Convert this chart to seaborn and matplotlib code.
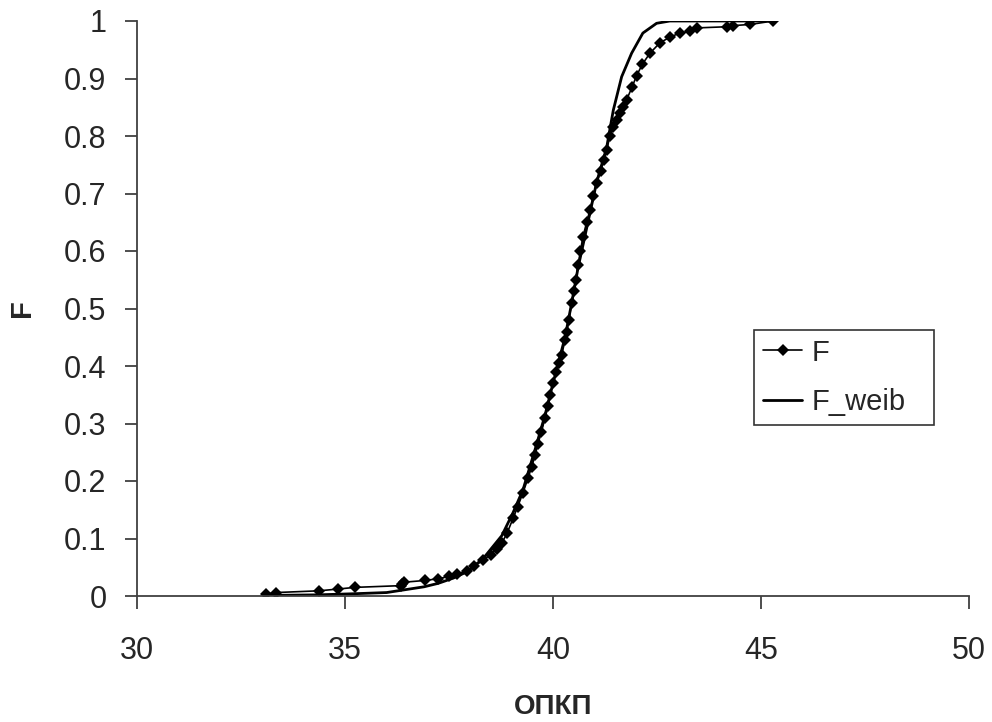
import matplotlib
matplotlib.use("Agg")
import matplotlib.pyplot as plt
import seaborn as sns
import pandas as pd

f_x = [33.09, 33.34, 34.37, 34.82, 35.24, 36.34, 36.38, 36.42, 36.92, 37.24,
       37.50, 37.70, 37.93, 38.10, 38.32, 38.50, 38.65, 38.77, 38.90, 39.04,
       39.15, 39.28, 39.40, 39.49, 39.57, 39.64, 39.72, 39.81, 39.88, 39.93,
       40.00, 40.08, 40.15, 40.21, 40.29, 40.33, 40.38, 40.45, 40.50, 40.55,
       40.60, 40.66, 40.72, 40.81, 40.89, 40.97, 41.05, 41.15, 41.22, 41.29,
       41.37, 41.45, 41.53, 41.60, 41.68, 41.77, 41.90, 42.01, 42.15, 42.33,
       42.57, 42.81, 43.05, 43.29, 43.46, 44.18, 44.33, 44.74, 45.29]
f_y = [0.003, 0.006, 0.009, 0.012, 0.015, 0.018, 0.021, 0.024, 0.027, 0.030,
       0.034, 0.038, 0.044, 0.052, 0.062, 0.072, 0.082, 0.092, 0.110, 0.135,
       0.155, 0.180, 0.205, 0.225, 0.245, 0.265, 0.285, 0.310, 0.330, 0.350,
       0.370, 0.390, 0.405, 0.420, 0.445, 0.460, 0.480, 0.510, 0.530, 0.550,
       0.575, 0.600, 0.625, 0.650, 0.672, 0.695, 0.718, 0.740, 0.758, 0.776,
       0.800, 0.815, 0.828, 0.840, 0.850, 0.863, 0.885, 0.905, 0.925, 0.944,
       0.962, 0.972, 0.979, 0.982, 0.988, 0.990, 0.992, 0.994, 1.000]

# fitted Weibull curve F_weib
w_x = [33.09, 34.35, 35.24, 36.00, 36.36, 36.90, 37.24, 37.60, 37.93, 38.32,
       38.77, 39.04, 39.28, 39.57, 39.81, 40.00, 40.29, 40.45, 40.60, 40.81,
       41.05, 41.29, 41.45, 41.65, 41.89, 42.16, 42.49, 42.81, 45.34]
w_y = [0.001, 0.002, 0.004, 0.006, 0.010, 0.016, 0.022, 0.031, 0.042, 0.065,
       0.105, 0.145, 0.185, 0.255, 0.315, 0.370, 0.450, 0.510, 0.570, 0.640,
       0.720, 0.780, 0.845, 0.903, 0.944, 0.979, 0.996, 1.000, 1.000]

x_ticks = [30, 35, 40, 45, 50]
y_ticks = [0, 0.1, 0.2, 0.3, 0.4, 0.5, 0.6, 0.7, 0.8, 0.9, 1]
y_tick_labels = ["0", "0.1", "0.2", "0.3", "0.4", "0.5", "0.6", "0.7", "0.8", "0.9", "1"]

df_f = pd.DataFrame({"x": f_x, "y": f_y})
df_w = pd.DataFrame({"x": w_x, "y": w_y})

sns.set_style("ticks")
plt.rcParams["font.family"] = ["Liberation Sans", "DejaVu Sans"]

fig = plt.figure(figsize=(9.92, 7.22), dpi=100)
ax = fig.add_axes([137 / 992, 126 / 722, 832 / 992, 575 / 722])

sns.lineplot(df_f, x="x", y="y", ax=ax, color="black", lw=1.2, marker="D",
             markersize=6, markeredgewidth=0, sort=False, estimator=None, label="F")
sns.lineplot(df_w, x="x", y="y", ax=ax, color="black", lw=2,
             sort=False, estimator=None, label="F_weib")

ax.set_xlim(30, 50)
ax.set_ylim(0, 1)
ax.set_xticks(x_ticks)
ax.set_yticks(y_ticks)
ax.set_yticklabels(y_tick_labels)
ax.tick_params(axis="both", direction="out", length=9, width=1.3, color="#404040",
               labelsize=22)
ax.tick_params(axis="x", pad=20)
ax.tick_params(axis="y", pad=13)
for side in ["right", "top"]:
    ax.spines[side].set_visible(False)
for side in ["left", "bottom"]:
    ax.spines[side].set_color("#404040")
    ax.spines[side].set_linewidth(1.3)

ax.set_xlabel("ОПКП", fontsize=20, weight="bold")
ax.set_ylabel("F", fontsize=21, weight="bold")
ax.xaxis.set_label_coords(0.5, -0.170)
ax.yaxis.set_label_coords(-0.121, 0.5)

leg = ax.legend(loc="lower left", bbox_to_anchor=(0.742, 0.297, 0.216, 0.167),
                mode="expand", borderaxespad=0, fontsize=21, frameon=True,
                fancybox=False, handlelength=1.35, handletextpad=0.3,
                borderpad=0.3, labelspacing=0.75)
leg.get_frame().set_edgecolor("black")
leg.get_frame().set_linewidth(1.2)

fig.savefig("out.png", dpi=100)
